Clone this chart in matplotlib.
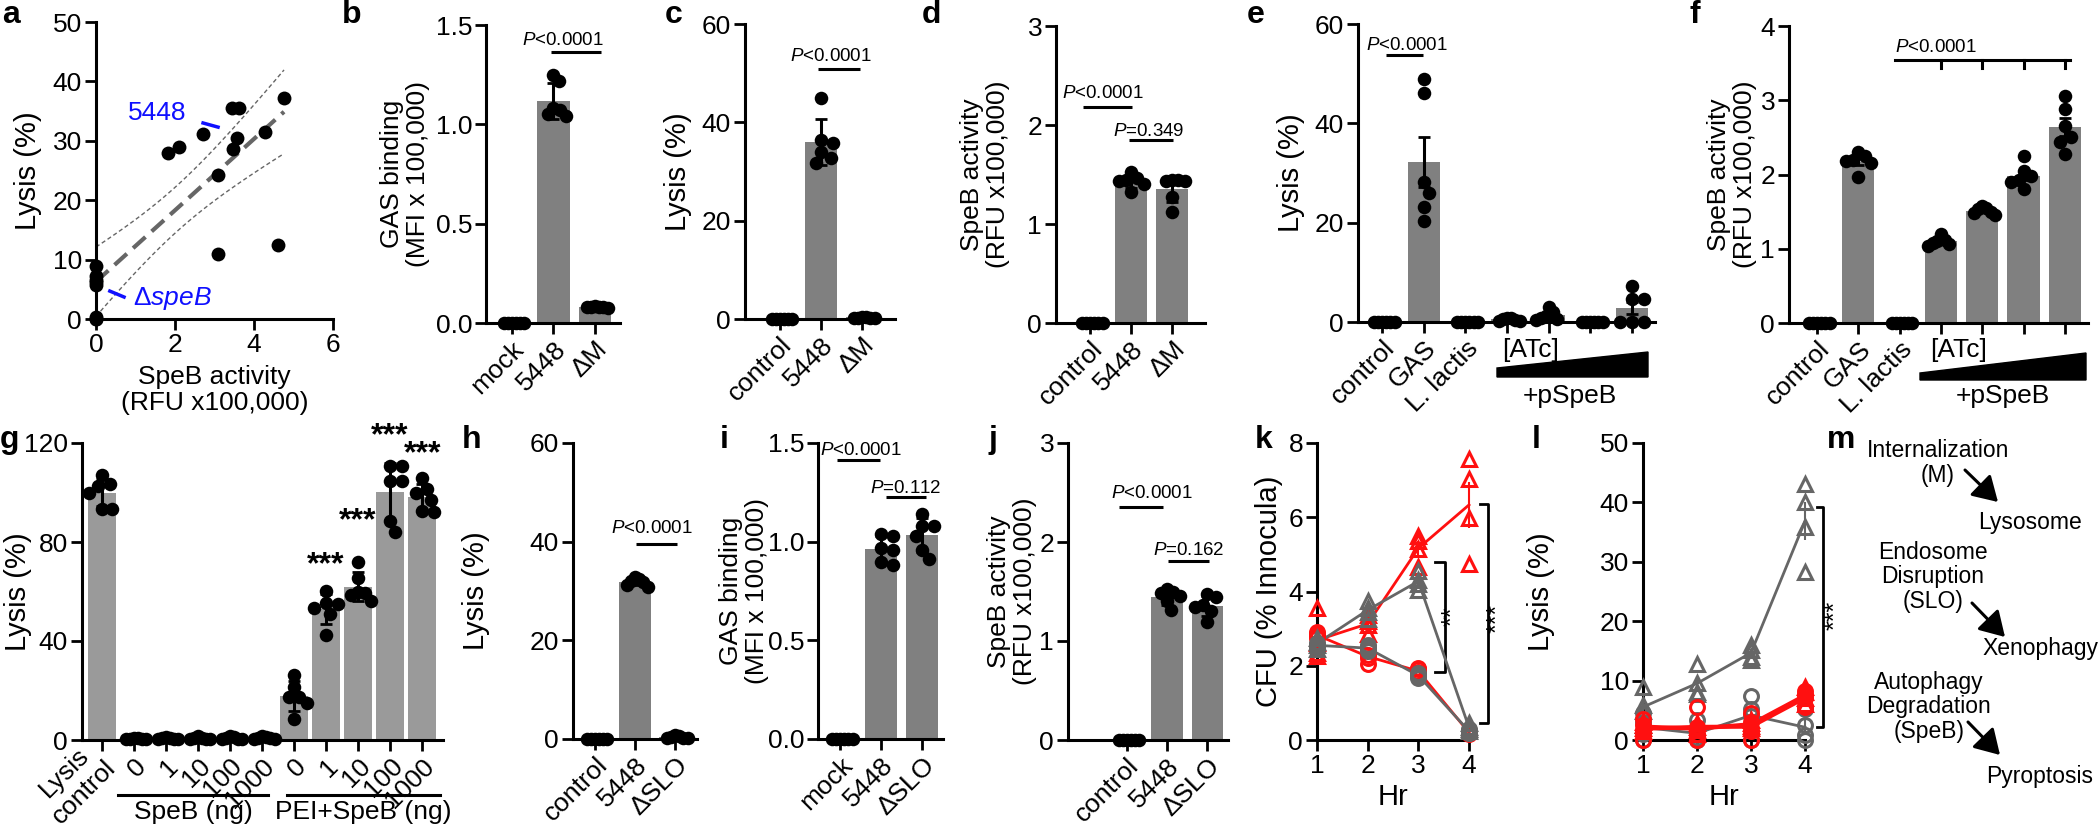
import numpy as np
import matplotlib
matplotlib.use('Agg')
import matplotlib.pyplot as plt
from matplotlib.patches import Polygon, FancyArrowPatch
from matplotlib.transforms import Affine2D

plt.rcParams['font.family'] = ['Liberation Sans', 'DejaVu Sans']
plt.rcParams['mathtext.fontset'] = 'custom'
plt.rcParams['mathtext.rm'] = 'Liberation Sans'
plt.rcParams['mathtext.it'] = 'Liberation Sans:italic'
plt.rcParams['axes.linewidth'] = 2.2

# ---------------- data ----------------
# a: isolates, SpeB activity vs lysis
a_speb = [0, 0, 0, 0, 0, 0, 0, 0, 1.83, 2.10, 2.72, 3.10, 3.10, 3.44, 3.63, 3.47, 3.58, 4.27, 4.61, 4.76]
a_lysis = [8.9, 7.2, 6.6, 6.2, 5.8, 0.3, 0, 0, 28.0, 28.9, 31.1, 24.2, 11.0, 35.6, 35.6, 28.7, 30.5, 31.5, 12.4, 37.2]

b_labels = ['mock', '5448', 'ΔM']
b_vals = [[0, 0, 0, 0, 0, 0], [1.25, 1.22, 1.08, 1.07, 1.05, 1.04], [0.08, 0.085, 0.08, 0.075, 0.08, 0.08]]

c_labels = ['control', '5448', 'ΔM']
c_vals = [[0, 0, 0, 0, 0, 0], [44.9, 36.5, 35.8, 34.0, 32.8, 31.8], [0.5, 0.3, 0.4, 0.2, 0.3, 0.2]]

d_labels = ['control', '5448', 'ΔM']
d_vals = [[0, 0, 0, 0, 0, 0], [1.53, 1.46, 1.44, 1.43, 1.40, 1.32], [1.44, 1.44, 1.43, 1.43, 1.27, 1.12]]

e_labels = ['control', 'GAS', 'L. lactis', '', '', '', '']
e_vals = [[0, 0, 0, 0, 0, 0], [48.9, 46.2, 28.2, 26.0, 23.2, 20.4], [0, 0, 0, 0, 0, 0],
          [0.8, 0.9, 0.6, 0.3, 0.5, 0.2], [3.1, 2.0, 1.2, 0.8, 0.6, 0.4], [0, 0, 0, 0, 0, 0],
          [7.2, 4.7, 4.7, 0.1, 0.1, 0.1]]

f_labels = ['control', 'GAS', 'L. lactis', '', '', '', '']
f_vals = [[0, 0, 0, 0, 0, 0], [2.30, 2.25, 2.20, 2.18, 2.15, 1.97], [0, 0, 0, 0, 0, 0],
          [1.20, 1.12, 1.10, 1.08, 1.06, 1.04], [1.58, 1.55, 1.53, 1.50, 1.48, 1.45],
          [2.25, 2.05, 1.98, 1.92, 1.90, 1.80], [3.06, 2.88, 2.65, 2.51, 2.44, 2.27]]

g_labels = ['Lysis\ncontrol', '0', '1', '10', '100', '1000', '0', '1', '10', '100', '1000']
g_vals = [[107, 103.5, 102.5, 100, 93.5, 93.5], [1.0, 0.5, 0.8, 0.3, 0.6, 0.4], [1.2, 0.9, 0.6, 0.5, 0.4, 0.8],
          [1.5, 1.0, 0.8, 0.6, 0.3, 0.5], [1.5, 1.2, 0.9, 0.5, 0.3, 0.6], [1.6, 1.2, 1.0, 0.8, 0.5, 0.4],
          [26.3, 21.3, 17.5, 17.5, 14.8, 8.4], [60.4, 55.5, 55.0, 53.5, 51.0, 42.5],
          [72.0, 65.5, 60.0, 59.5, 58.5, 56.0], [110.6, 110.6, 104.5, 104.5, 88.3, 83.9],
          [105.8, 101.5, 99.8, 97.0, 92.5, 92.0]]

h_labels = ['control', '5448', 'ΔSLO']
h_vals = [[0, 0, 0, 0, 0, 0], [32.8, 32.5, 32.0, 31.8, 31.3, 30.8], [0.8, 0.6, 0.4, 0.3, 0.3, 0.2]]

i_labels = ['mock', '5448', 'ΔSLO']
i_vals = [[0, 0, 0, 0, 0, 0], [1.04, 1.03, 0.966, 0.958, 0.899, 0.882], [1.14, 1.08, 1.08, 1.03, 0.96, 0.91]]

j_labels = ['control', '5448', 'ΔSLO']
j_vals = [[0, 0, 0, 0, 0, 0], [1.53, 1.50, 1.48, 1.45, 1.40, 1.31], [1.47, 1.44, 1.36, 1.34, 1.30, 1.19]]

hours = [1, 2, 3, 4]
k_red_tri = [[3.55, 2.6, 2.35, 2.25], [3.37, 3.2, 3.1, 2.85], [5.5, 5.35, 5.15, 4.65], [7.57, 7.03, 5.98, 4.75]]
k_red_circ = [[2.9, 2.85, 2.8, 2.75], [2.45, 2.3, 2.2, 2.05], [1.95, 1.9, 1.82, 1.75], [0.25, 0.2, 0.2, 0.15]]
k_gray_tri = [[2.75, 2.65, 2.55, 2.45], [3.75, 3.55, 3.45, 3.25], [4.55, 4.3, 4.2, 4.05], [0.45, 0.35, 0.3, 0.25]]
k_gray_circ = [[2.6, 2.55, 2.55, 2.5], [2.55, 2.5, 2.45, 2.4], [1.8, 1.75, 1.72, 1.68], [0.3, 0.25, 0.2, 0.2]]

l_red_tri = [[3.0, 2.5, 2.0, 1.5], [2.8, 2.2, 1.6, 1.0], [3.4, 2.8, 2.4, 2.0], [9.0, 8.0, 7.0, 6.0]]
l_red_circ = [[3.6, 2.5, 1.5, 0.0], [5.6, 2.2, 1.0, 0.0], [4.5, 3.0, 1.5, 0.0], [8.2, 7.6, 7.0, 5.6]]
l_gray_tri = [[9.0, 5.9, 4.8, 2.5], [12.8, 9.6, 8.0, 7.7], [16.0, 15.2, 14.0, 13.5], [43.1, 40.1, 35.9, 28.2]]
l_gray_circ = [[4.5, 3.0, 1.0, 0.0], [3.4, 0.8, 0.3, 0.0], [7.4, 5.2, 4.0, 0.0], [5.3, 2.5, 0.8, 0.0]]

RED = '#ff1010'
GRAY = '#666666'

# ---------------- figure ----------------
W, H = 2100, 825
fig = plt.figure(figsize=(21, 8.25), dpi=100)
PX = Affine2D().scale(1 / W, -1 / H).translate(0, 1) + fig.transFigure


def add_ax(l, t, r, b):
    return fig.add_axes([l / W, 1 - b / H, (r - l) / W, (b - t) / H])


def style(ax, size=19):
    for s in ['top', 'right']:
        ax.spines[s].set_visible(False)
    ax.tick_params(width=2, length=8, labelsize=size, pad=2)


def swarm_x(ax, xc, vals, d=13.0, gap=0.9, maxhw=12.5):
    # GraphPad-like scatter: spread overlapping dots, squeezed into the column
    T = ax.transData
    placed = []
    offs = np.zeros(len(vals))
    pys = np.zeros(len(vals))
    for idx in np.argsort(vals)[::-1]:
        px, py = T.transform((xc, vals[idx]))
        off = 0.0
        for k in range(80):
            cands = [0.0] if k == 0 else [k * d * 0.1, -k * d * 0.1]
            hit = None
            for c in cands:
                if all(np.hypot(c - qx, py - qy) >= d * gap for qx, qy in placed):
                    hit = c
                    break
            if hit is not None:
                off = hit
                break
        placed.append((off, py))
        offs[idx] = off
        pys[idx] = py
    m = np.abs(offs).max()
    if m > maxhw:
        offs = offs * maxhw / m
    px0 = T.transform((xc, 0))[0]
    return np.array([T.inverted().transform((px0 + o, p))[0] for o, p in zip(offs, pys)])


def bar_panel(ax, groups, labels, xlim, ylim, yticks, err='sd', color='#808080', width=0.78):
    style(ax)
    ax.set_xlim(*xlim)
    ax.set_ylim(*ylim)
    ax.set_yticks(yticks)
    ax.set_xticks(range(len(groups)))
    ax.set_xticklabels(labels, rotation=45, ha='right', va='top', rotation_mode='anchor')
    for i, vals in enumerate(groups):
        v = np.asarray(vals, float)
        m = v.mean()
        ax.bar(i, m, width=width, color=color, zorder=1)
        xs = swarm_x(ax, i, v)
        ax.scatter(xs, v, s=95, color='k', zorder=3, clip_on=False, linewidths=0)
        e = v.std(ddof=1)
        if err == 'sem':
            e = e / np.sqrt(len(v))
        if e > 0.01 * ylim[1]:
            ax.errorbar(i, m, yerr=e, color='k', lw=2.2, capsize=4, capthick=2, zorder=4)


def pbar(ax, x0, x1, y, text, tx, ty):
    ax.plot([x0, x1], [y, y], color='k', lw=2.2, clip_on=False, solid_capstyle='butt')
    ax.text(tx, ty, text, ha='center', va='baseline', fontsize=13.5)


P_LT = r'$\it{P}$<0.0001'

# ---- a ----
ax = add_ax(96, 22, 333, 319)
style(ax)
ax.set_xlim(0, 6)
ax.set_ylim(0, 50)
ax.set_xticks([0, 2, 4, 6])
ax.set_yticks([0, 10, 20, 30, 40, 50])
x = np.array(a_speb)
y = np.array(a_lysis)
slope, icpt = np.polyfit(x, y, 1)
xx = np.linspace(0, x.max(), 100)
n = len(x)
resid = y - (icpt + slope * x)
s = np.sqrt(np.sum(resid ** 2) / (n - 2))
se = s * np.sqrt(1 / n + (xx - x.mean()) ** 2 / np.sum((x - x.mean()) ** 2))
fit = icpt + slope * xx
ax.plot(xx, fit, color='#666666', lw=3, dashes=(4, 2))
ax.plot(xx, fit + 2.10 * se, color='#666666', lw=1, dashes=(3, 2))
ax.plot(xx, fit - 2.10 * se, color='#666666', lw=1, dashes=(3, 2))
ax.scatter(x, y, s=100, color='k', zorder=3, clip_on=False, linewidths=0)
ax.text(1.55, 34.7, '5448', color='#1010ff', fontsize=19, ha='center', va='center')
ax.plot([2.71, 3.09], [33.0, 32.3], color='#1010ff', lw=2.5)
ax.text(1.93, 3.5, r'Δ$\it{speB}$', color='#1010ff', fontsize=19, ha='center', va='center')
ax.plot([0.35, 0.71], [4.7, 3.7], color='#1010ff', lw=2.5)
ax.set_ylabel('Lysis (%)', fontsize=21)
ax.yaxis.set_label_coords(-0.228, 0.5)
ax.set_xlabel('SpeB activity\n(RFU x100,000)', fontsize=19, linespacing=1.1)
ax.xaxis.set_label_coords(0.5, -0.155)

# ---- b ----
ax = add_ax(486, 25, 620, 323)
bar_panel(ax, b_vals, b_labels, (-0.62, 2.6), (0, 1.5), [0, 0.5, 1.0, 1.5])
ax.set_yticklabels(['0.0', '0.5', '1.0', '1.5'])
pbar(ax, 0.95, 2.15, 1.366, P_LT, 1.24, 1.40)
ax.set_ylabel('GAS binding\n(MFI x 100,000)', fontsize=19, linespacing=1.1)
ax.yaxis.set_label_coords(-0.418, 0.5)

# ---- c ----
ax = add_ax(745, 24, 895, 319)
bar_panel(ax, c_vals, c_labels, (-0.85, 2.8), (0, 60), [0, 20, 40, 60])
pbar(ax, 0.93, 1.95, 50.8, P_LT, 1.24, 52.5)
ax.set_ylabel('Lysis (%)', fontsize=21)
ax.yaxis.set_label_coords(-0.353, 0.5)

# ---- d ----
ax = add_ax(1056, 26, 1205, 323)
bar_panel(ax, d_vals, d_labels, (-0.83, 2.8), (0, 3), [0, 1, 2, 3])
pbar(ax, -0.17, 1.02, 2.18, P_LT, 0.32, 2.27)
pbar(ax, 0.95, 2.02, 1.85, r'$\it{P}$=0.349', 1.44, 1.89)
ax.set_ylabel('SpeB activity\n(RFU x100,000)', fontsize=19, linespacing=1.1)
ax.yaxis.set_label_coords(-0.309, 0.5)

# ---- e ----
ax = add_ax(1358, 24, 1655, 322)
bar_panel(ax, e_vals, e_labels, (-0.58, 6.55), (0, 60), [0, 20, 40, 60], err='sem')
pbar(ax, 0.1, 0.99, 53.8, P_LT, 0.6, 54.8)
ax.set_ylabel('Lysis (%)', fontsize=21)
ax.yaxis.set_label_coords(-0.178, 0.5)

# ---- f ----
ax = add_ax(1789, 26, 2088, 323)
bar_panel(ax, f_vals, f_labels, (-0.68, 6.56), (0, 4), [0, 1, 2, 3, 4], err='sem')
ax.plot([1.89, 6.13], [3.54, 3.54], color='k', lw=2.2, clip_on=False)
for xb in [3, 4, 5, 6]:
    ax.plot([xb, xb], [3.54, 3.43], color='k', lw=2.2, clip_on=False)
ax.text(1.89, 3.65, P_LT, ha='left', va='baseline', fontsize=13.5)
ax.set_ylabel('SpeB activity\n(RFU x100,000)', fontsize=19, linespacing=1.1)
ax.yaxis.set_label_coords(-0.107, 0.5)

# ATc wedges (e, f)
for x0, x1, yb, ytl, ytr, xt, xc in [(1497, 1648, 377, 368, 352, 1502, 1570),
                                     (1920, 2086, 380, 373, 353, 1930, 2003)]:
    fig.add_artist(Polygon([(x0, yb), (x0, ytl), (x1, ytr), (x1, yb)], closed=True,
                           transform=PX, color='k'))
    fig.text(xt, 350, '[ATc]', transform=PX, fontsize=19, ha='left', va='center')
    fig.text(xc, 396, '+pSpeB', transform=PX, fontsize=19, ha='center', va='center')

# ---- g ----
ax = add_ax(82, 443, 443, 740)
bar_panel(ax, g_vals, g_labels, (-0.62, 10.65), (0, 120), [0, 40, 80, 120],
          color='#9a9a9a', width=0.88)
first = ax.get_xticklabels()[0]
first.set_multialignment('center')
first.set_va('center')
for xi, ys in [(7, 70.8), (8, 88.3), (9, 122.7), (10, 115.3)]:
    ax.text(xi, ys, '***', ha='center', va='center', fontsize=23, fontweight='bold')
ax.set_ylabel('Lysis (%)', fontsize=21)
ax.yaxis.set_label_coords(-0.139, 0.5)
fig.add_artist(plt.Line2D([118 / W, 268 / W], [1 - 795 / H, 1 - 795 / H], color='k', lw=2.2))
fig.add_artist(plt.Line2D([287 / W, 440 / W], [1 - 795 / H, 1 - 795 / H], color='k', lw=2.2))
fig.text(193, 812, 'SpeB (ng)', transform=PX, fontsize=19, ha='center', va='center')
fig.text(363, 812, 'PEI+SpeB (ng)', transform=PX, fontsize=19, ha='center', va='center')

# ---- h ----
ax = add_ax(573, 443, 697, 739)
bar_panel(ax, h_vals, h_labels, (-0.55, 2.55), (0, 60), [0, 20, 40, 60])
pbar(ax, 1.02, 2.05, 39.5, P_LT, 1.43, 41.7)
ax.set_ylabel('Lysis (%)', fontsize=21)
ax.yaxis.set_label_coords(-0.669, 0.5)

# ---- i ----
ax = add_ax(818, 443, 943, 739)
bar_panel(ax, i_vals, i_labels, (-0.54, 2.51), (0, 1.5), [0, 0.5, 1.0, 1.5])
ax.set_yticklabels(['0.0', '0.5', '1.0', '1.5'])
pbar(ax, -0.07, 0.98, 1.413, P_LT, 0.51, 1.44)
pbar(ax, 1.12, 2.1, 1.224, r'$\it{P}$=0.112', 1.61, 1.245)
ax.set_ylabel('GAS binding\n(MFI x 100,000)', fontsize=19, linespacing=1.1)
ax.yaxis.set_label_coords(-0.39, 0.5)

# ---- j ----
ax = add_ax(1068, 443, 1228, 740)
bar_panel(ax, j_vals, j_labels, (-1.47, 2.52), (0, 3), [0, 1, 2, 3])
pbar(ax, -0.2, 0.9, 2.35, P_LT, 0.63, 2.44)
pbar(ax, 1.03, 2.05, 1.81, r'$\it{P}$=0.162', 1.53, 1.87)
ax.set_ylabel('SpeB activity\n(RFU x100,000)', fontsize=19, linespacing=1.1)
ax.yaxis.set_label_coords(-0.194, 0.5)


# ---- k, l ----
def time_series(ax, series):
    for reps, color, marker, lw in series:
        r = np.asarray(reps, float)
        m = r.mean(axis=1)
        e = r.std(axis=1, ddof=1) / np.sqrt(r.shape[1])
        ax.errorbar(hours, m, yerr=e, color=color, lw=lw, capsize=0, elinewidth=1.5,
                    clip_on=False, zorder=3)
        for h, row in zip(hours, r):
            ax.plot([h] * len(row), row, linestyle='none', marker=marker, ms=10, mew=2.2,
                    mfc='none', mec=color, clip_on=False, zorder=4)


ax = add_ax(1317, 443, 1469, 740)
style(ax)
ax.set_xlim(1, 4)
ax.set_ylim(0, 8)
ax.set_xticks(hours)
ax.set_yticks([0, 2, 4, 6, 8])
time_series(ax, [(k_red_tri, RED, '^', 2), (k_red_circ, RED, 'o', 2),
                 (k_gray_tri, GRAY, '^', 2), (k_gray_circ, GRAY, 'o', 2)])
ax.plot([3.33, 3.52, 3.52, 3.33], [4.79, 4.79, 1.84, 1.84], color='k', lw=2, clip_on=False)
ax.text(3.68, 3.33, '**', rotation=90, ha='center', va='center', fontsize=18)
ax.plot([4.21, 4.37, 4.37, 4.21], [6.36, 6.36, 0.45, 0.45], color='k', lw=2, clip_on=False)
ax.text(4.57, 3.28, '***', rotation=90, ha='center', va='center', fontsize=18)
ax.set_ylabel('CFU (% Innocula)', fontsize=21)
ax.yaxis.set_label_coords(-0.224, 0.5)
ax.set_xlabel('Hr', fontsize=21)
ax.xaxis.set_label_coords(0.5, -0.145)

ax = add_ax(1643, 443, 1805, 740)
style(ax)
ax.set_xlim(1, 4)
ax.set_ylim(0, 50)
ax.set_xticks(hours)
ax.set_yticks([0, 10, 20, 30, 40, 50])
time_series(ax, [(l_gray_circ, GRAY, 'o', 2), (l_gray_tri, GRAY, '^', 2),
                 (l_red_circ, RED, 'o', 3), (l_red_tri, RED, '^', 3)])
ax.plot([4.22, 4.33, 4.33, 4.22], [39.2, 39.2, 2.2, 2.2], color='k', lw=2, clip_on=False)
ax.text(4.56, 21, '***', rotation=90, ha='center', va='center', fontsize=18)
ax.set_ylabel('Lysis (%)', fontsize=21)
ax.yaxis.set_label_coords(-0.543, 0.5)
ax.set_xlabel('Hr', fontsize=21)
ax.xaxis.set_label_coords(0.5, -0.145)

# ---- m: schematic ----
for txt, xc, yc in [('Internalization\n(M)', 1938, 463), ('Lysosome', 2030, 522),
                    ('Endosome\nDisruption\n(SLO)', 1933, 577), ('Xenophagy', 2040, 649),
                    ('Autophagy\nDegradation\n(SpeB)', 1929, 707), ('Pyroptosis', 2040, 777)]:
    fig.text(xc, yc, txt, transform=PX, fontsize=16.5, ha='center', va='center',
             linespacing=1.1, multialignment='center')
for p0, p1 in [((1965, 470), (1998, 502)), ((1972, 603), (2005, 637)), ((1968, 722), (2000, 755))]:
    fig.add_artist(FancyArrowPatch(p0, p1, transform=PX, arrowstyle='-|>,head_length=1.0,head_width=0.6',
                                   mutation_scale=15, color='k', lw=2.2, shrinkA=0, shrinkB=0))

# ---- panel letters ----
for letter, xl, yt in [('a', 2, 0), ('b', 342, 0), ('c', 665, 0), ('d', 922, 0), ('e', 1247, 0),
                       ('f', 1690, 0), ('g', 0, 425), ('h', 462, 425), ('i', 720, 425),
                       ('j', 988, 425), ('k', 1255, 425), ('l', 1532, 425), ('m', 1827, 425)]:
    fig.text(xl, yt, letter, transform=PX, fontsize=23, fontweight='bold', ha='left', va='top')

fig.savefig('out.png', dpi=100)
